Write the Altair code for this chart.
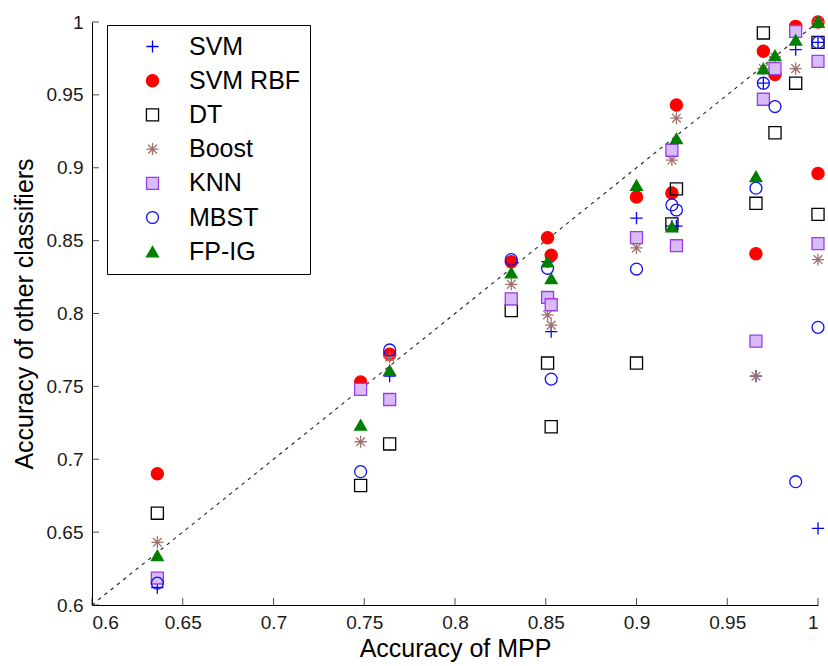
import altair as alt
import pandas as pd

classifiers = ["SVM", "SVM RBF", "DT", "Boost", "KNN", "MBST", "FP-IG"]

# Accuracy of MPP for each dataset (x positions)
mpp = [0.636, 0.748, 0.764, 0.831, 0.851, 0.853, 0.900, 0.9195, 0.922,
       0.9658, 0.9699, 0.9763, 0.9877, 1.0, 1.0]

# Accuracy of the other classifiers on the same datasets
svm = [0.612, 0.750, 0.757, 0.835, 0.8355, 0.7875, 0.8655, 0.860, 0.860,
       0.757, 0.958, 0.968, 0.981, 0.986, 0.6526]
svm_rbf = [0.690, 0.753, 0.772, 0.8355, 0.852, 0.840, 0.880, 0.8827, 0.943,
           0.841, 0.980, 0.964, 0.997, 1.0, 0.896]
dt = [0.663, 0.682, 0.7105, 0.802, 0.766, 0.7223, 0.766, 0.8615, 0.8855,
      0.8756, 0.9925, 0.924, 0.958, 0.986, 0.868]
boost = [0.643, 0.712, 0.770, 0.820, 0.799, 0.792, 0.845, 0.9053, 0.934,
         0.757, 0.968, 0.976, 0.968, 1.0, 0.837]
knn = [0.6185, 0.748, 0.741, 0.810, 0.811, 0.806, 0.852, 0.912, 0.8465,
       0.781, 0.947, 0.968, 0.9935, 0.973, 0.848]
mbst = [0.615, 0.6915, 0.775, 0.837, 0.831, 0.755, 0.8305, 0.8745, 0.871,
        0.886, 0.958, 0.942, 0.6846, 0.986, 0.7905]
fpig = [0.634, 0.7235, 0.761, 0.828, 0.8355, 0.824, 0.888, 0.8596, 0.920,
        0.894, 0.968, 0.977, 0.9877, 1.0, 1.0]

tick_values = [0.6, 0.65, 0.7, 0.75, 0.8, 0.85, 0.9, 0.95, 1.0]
diag_values = [0.6, 1.0]

series = [svm, svm_rbf, dt, boost, knn, mbst, fpig]
rows = []
for name, vals in zip(classifiers, series):
    for xv, yv in zip(mpp, vals):
        rows.append({"mpp": xv, "acc": yv, "clf": name})
df = pd.DataFrame(rows)
diag_df = pd.DataFrame({"mpp": diag_values, "acc": diag_values})
tick_df = pd.DataFrame({"t": tick_values})

plus = "M-1,0L1,0M0,-1L0,1"
star = "M-1,0L1,0M0,-1L0,1M-0.72,-0.72L0.72,0.72M-0.72,0.72L0.72,-0.72"
shapes = [plus, "circle", "square", star, "square", "circle", "triangle-up"]
fills = ["transparent", "#FF0000", "transparent", "transparent", "#D8BBF7",
         "transparent", "#007F00"]
strokes = ["#0000FF", "#FF0000", "#000000", "#A0716C", "#9A3CEB", "#1010FF",
           "#007F00"]
sizes = [150, 140, 140, 150, 150, 140, 260]

FONT = "Liberation Sans"
xs = alt.Scale(domain=[0.6, 1.0], nice=False, zero=False)
ys = alt.Scale(domain=[0.6, 1.0], nice=False, zero=False)

leg = alt.Legend(
    title=None, orient="none", legendX=15, legendY=3, padding=9,
    strokeColor="#000000", fillColor="#FFFFFF", labelFont=FONT,
    labelFontSize=25, labelColor="#000000", rowPadding=8.2,
    symbolOffset=24, labelOffset=24, symbolStrokeWidth=1.3,
    labelLimit=300,
)

points = alt.Chart(df).mark_point(opacity=1, strokeWidth=1.3).encode(
    x=alt.X("mpp:Q", scale=xs,
            axis=alt.Axis(values=tick_values, format=".2~f", title="Accuracy of MPP",
                          ticks=False, grid=False, labelPadding=8,
                          titleY=51, titleBaseline="alphabetic")),
    y=alt.Y("acc:Q", scale=ys,
            axis=alt.Axis(values=tick_values, format=".2~f",
                          title="Accuracy of other classifiers",
                          ticks=False, grid=False, labelPadding=9,
                          titleX=-60, titleY=291.5, titleBaseline="alphabetic")),
    shape=alt.Shape("clf:N", scale=alt.Scale(domain=classifiers, range=shapes), legend=leg),
    fill=alt.Fill("clf:N", scale=alt.Scale(domain=classifiers, range=fills), legend=leg),
    stroke=alt.Stroke("clf:N", scale=alt.Scale(domain=classifiers, range=strokes), legend=leg),
    size=alt.Size("clf:N", scale=alt.Scale(domain=classifiers, range=sizes), legend=leg),
)

diag = alt.Chart(diag_df).mark_line(color="#222222", strokeWidth=1.1,
                                    strokeDash=[3.5, 4.5]).encode(
    x=alt.X("mpp:Q", scale=xs), y=alt.Y("acc:Q", scale=ys)
)

ticks_x = alt.Chart(tick_df).mark_tick(orient="vertical", size=7, thickness=1,
                                       color="#000000", yOffset=-3.5).encode(
    x=alt.X("t:Q", scale=xs), y=alt.datum(0.6)
)
ticks_y = alt.Chart(tick_df).mark_tick(orient="horizontal", size=7, thickness=1,
                                       color="#000000", xOffset=3.5).encode(
    y=alt.Y("t:Q", scale=ys), x=alt.datum(0.6)
)

chart = alt.layer(diag, ticks_x, ticks_y, points).properties(
    width=726, height=583,
    autosize=alt.AutoSizeParams(type="none"),
    padding={"left": 92, "top": 22, "right": 10, "bottom": 61},
).configure_view(stroke=None).configure_axis(
    labelFont=FONT, labelFontSize=19, labelColor="#1A1A1A",
    titleFont=FONT, titleFontSize=25, titleColor="#000000", titleFontWeight="normal",
    domainColor="#000000", domainWidth=1,
)

chart.save("out.html", embed_options={"renderer": "svg", "actions": False})
